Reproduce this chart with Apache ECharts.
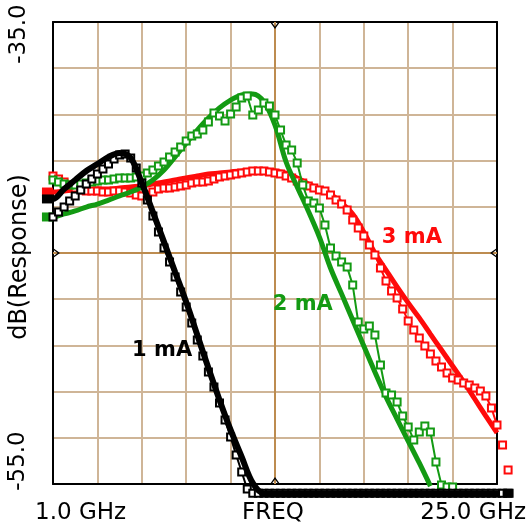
<!DOCTYPE html>
<html><head><meta charset="utf-8">
<script src="https://cdn.jsdelivr.net/npm/echarts@6/dist/echarts.min.js"></script>
<style>html,body{margin:0;padding:0;background:#fff}#c{width:529px;height:527px}</style>
</head><body><div id="c"></div>
<script>
// ---- axis definitions ----
const FREQ_MIN = 1.0, FREQ_MAX = 25.0, FREQ_STEP = 2.4;   // GHz
const DB_MIN = -55, DB_MAX = -35, DB_STEP = 2;
const xTickLabels = ['1.0 GHz', 'FREQ', '25.0 GHz'];
const yTickLabels = ['-35.0', '-55.0'];
const yAxisTitle = 'dB(Response)';
const seriesNames = ['1 mA', '2 mA', '3 mA'];

// ---- measured sweeps (GHz / dB) ----
const measFreq = [1.0,1.3,1.6,1.9,2.2,2.5,2.8,3.1,3.4,3.7,4.0,4.3,4.6,4.9,5.2,5.5,5.8,6.1,6.4,6.7,7.0,7.3,7.6,7.9,8.2,8.5,8.8,9.1,9.4,9.7,10.0,10.3,10.6,10.9,11.2,11.5,11.8,12.1,12.4,12.7,13.0,13.3,13.6,13.9,14.2,14.5,14.8,15.1,15.4,15.7,16.0,16.3,16.6,16.9,17.2,17.5,17.8,18.1,18.4,18.7,19.0,19.3,19.6,19.9,20.2,20.5,20.8,21.1,21.4,21.7,22.0,22.3,22.6,22.9,23.2,23.5,23.8,24.1,24.4,24.7,25.0,25.3,25.6];
const meas1mA = [-43.44,-43.23,-43.01,-42.75,-42.53,-42.27,-42.01,-41.80,-41.58,-41.36,-41.15,-40.93,-40.76,-40.71,-40.89,-41.32,-41.97,-42.71,-43.40,-44.09,-44.78,-45.39,-46.04,-46.69,-47.34,-48.03,-48.77,-49.46,-50.15,-50.80,-51.49,-52.23,-52.97,-53.74,-54.48,-55.22,
 -55.4,-55.4,-55.4,-55.4,-55.4,-55.4,-55.4,-55.4,-55.4,-55.4,-55.4,-55.4,-55.4,-55.4,-55.4,-55.4,-55.4,-55.4,-55.4,-55.4,-55.4,-55.4,-55.4,-55.4,-55.4,-55.4,-55.4,-55.4,-55.4,-55.4,-55.4,-55.4,-55.4,-55.4,-55.4,-55.4,-55.4,-55.4,-55.4,-55.4,-55.4,-55.4,-55.4,-55.4,-55.4,-55.4,-55.4];
const meas2mA = [-41.84,-41.93,-42.01,-42.06,-42.06,-42.01,-41.97,-41.93,-41.88,-41.84,-41.84,-41.80,-41.75,-41.75,-41.75,-41.71,-41.67,-41.54,-41.41,-41.23,-41.06,-40.84,-40.63,-40.41,-40.15,-39.94,-39.85,-39.68,-39.33,-38.94,-39.07,-39.29,-38.98,-38.68,-38.29,-38.20,-39.03,-38.81,-38.51,-38.64,-39.03,-39.68,-40.32,-40.54,-41.10,-42.06,-42.75,-42.84,-43.05,-43.79,-44.78,-45.13,-45.39,-45.61,-46.39,-47.99,-48.29,-48.16,-48.55,-49.85,-51.06,-51.15,-51.45,-52.06,-52.53,-53.10,-52.75,-52.49,-52.75,-54.05,-55.04,-55.13,-55.13,
 null,null,null,null,null,null,null,null,null,null];
const meas3mA = [-41.67,-41.80,-41.93,-42.06,-42.19,-42.27,-42.32,-42.32,-42.32,-42.36,-42.36,-42.32,-42.32,-42.36,-42.40,-42.49,-42.53,-42.49,-42.36,-42.23,-42.19,-42.19,-42.14,-42.10,-42.06,-41.97,-41.93,-41.93,-41.88,-41.80,-41.71,-41.67,-41.62,-41.58,-41.54,-41.49,-41.45,-41.45,-41.45,-41.49,-41.54,-41.58,-41.67,-41.75,-41.88,-41.97,-42.10,-42.19,-42.27,-42.32,-42.49,-42.71,-42.88,-43.14,-43.57,-43.92,-44.26,-44.65,-45.09,-45.65,-46.21,-46.65,-46.95,-47.42,-47.94,-48.33,-48.68,-49.03,-49.37,-49.68,-49.94,-50.19,-50.41,-50.50,-50.63,-50.71,-50.84,-50.97,-51.19,-51.71,-52.45,-53.31,-54.39];

// ---- fitted (model) curves (GHz / dB) ----
const fitFreq = [0.7,1.0,1.6,2.2,2.8,3.4,4.0,4.6,5.2,5.8,6.4,7.0,7.6,8.2,8.8,9.4,10.0,10.6,11.2,11.8,12.4,13.0,13.6,14.2,14.8,15.4,16.0,16.6,17.2,17.8,18.4,19.0,19.6,20.2,20.8,21.4,22.0,22.6,23.2,23.8,24.4,25.0,25.6];
const fit1mA = [-42.66,-42.66,-42.23,-41.84,-41.45,-41.15,-40.84,-40.67,-40.89,-41.97,-43.23,-44.52,-45.82,-47.12,-48.55,-49.98,-51.36,-52.66,-53.83,-54.96,-55.4,-55.4,-55.4,-55.4,-55.4,-55.4,-55.4,-55.4,-55.4,-55.4,-55.4,-55.4,-55.4,-55.4,-55.4,-55.4,-55.4,-55.4,-55.4,-55.4,-55.4,-55.4,-55.4];
const fit2mA = [-43.44,-43.44,-43.31,-43.18,-43.01,-42.88,-42.71,-42.53,-42.36,-42.14,-41.84,-41.41,-40.84,-40.24,-39.68,-39.16,-38.72,-38.38,-38.16,-38.12,-38.46,-39.46,-41.06,-42.14,-43.18,-44.31,-45.65,-46.77,-47.90,-49.03,-50.15,-51.23,-52.19,-53.14,-54.09,-55.09,null,null,null,null,null,null,null];
const fit3mA = [-42.36,-42.36,-42.32,-42.27,-42.27,-42.23,-42.23,-42.19,-42.14,-42.10,-42.01,-41.93,-41.84,-41.75,-41.67,-41.58,-41.54,-41.49,-41.45,-41.41,-41.41,-41.45,-41.54,-41.75,-42.01,-42.23,-42.45,-42.84,-43.31,-44.09,-45.00,-45.74,-46.47,-47.16,-47.81,-48.51,-49.20,-49.89,-50.58,-51.32,-52.06,-52.79,null];

// ---- annotation anchors (GHz, dB) ----
const labelAnchors = { '1 mA': [6.9, -49.24], '2 mA': [14.5, -47.25], '3 mA': [20.4, -44.35] };

// ---- styling ----
const COLORS = { '1 mA': '#000000', '2 mA': '#139a13', '3 mA': '#ff0a0a' };
const GRID = { left: 53, top: 22, right: 32, bottom: 43 };
const FONT = '"DejaVu Sans", sans-serif';
const GRIDLINE = '#cfb597';
const CHEVRON = 'path://M0,7 L5,0 L10,7 L8.4,7 L5,2.3 L1.6,7 Z';

function pairs(freq, vals, endMarkIdx) {
  const out = [];
  freq.forEach((f, i) => {
    if (vals[i] == null) return;
    const item = { value: [f - FREQ_MIN, vals[i]] };
    if (endMarkIdx && endMarkIdx.includes(i)) { item.symbol = 'rect'; item.symbolSize = [11, 9]; }
    out.push(item);
  });
  return out;
}
function fitSeries(name, vals, marks, z, width) {
  return { name: name + ' fit', type: 'line', data: pairs(fitFreq, vals, marks), smooth: 0.35,
    symbol: 'none', showSymbol: true, clip: false, lineStyle: { color: COLORS[name], width: width || 5 },
    itemStyle: { color: COLORS[name] }, animation: false, z: z };
}
function measSeries(name, vals, z) {
  return { name: name, type: 'line', data: pairs(measFreq, vals), clip: false,
    symbol: 'emptyRect', symbolSize: 7, showSymbol: true, showAllSymbol: true,
    lineStyle: { color: COLORS[name], width: 2 },
    itemStyle: { color: COLORS[name], borderColor: COLORS[name], borderWidth: 2 }, animation: false, z: z };
}

const chart = echarts.init(document.getElementById('c'), null, { renderer: 'canvas' });
const xBase = { type: 'value', min: 0, max: FREQ_MAX - FREQ_MIN, interval: FREQ_STEP,
  axisLabel: { show: false }, axisTick: { show: false } };
const yBase = { type: 'value', min: DB_MIN, max: DB_MAX, interval: DB_STEP,
  axisLabel: { show: false }, axisTick: { show: false } };

const xMid = (FREQ_MAX - FREQ_MIN) / 2, yMid = (DB_MIN + DB_MAX) / 2;
const midLines = { symbol: 'none', silent: true, label: { show: false }, z: 1,
  lineStyle: { color: '#bd8c50', width: 2, type: 'solid' },
  data: [{ xAxis: xMid }, { yAxis: yMid }] };
const caret = (coord, rot, off) => ({ coord: coord, symbol: CHEVRON, symbolSize: [10, 7],
  symbolRotate: rot, symbolOffset: off, itemStyle: { color: '#000' }, label: { show: false } });
const midMarks = { silent: true, z: 6, animation: false, data: [
  caret([xMid, DB_MAX], 180, [0, 3.5]), caret([xMid, DB_MIN], 0, [0, -3.5]),
  caret([0, yMid], -90, [3.5, 0]), caret([FREQ_MAX - FREQ_MIN, yMid], 90, [-3.5, 0]) ] };

const series = [
  fitSeries('3 mA', fit3mA, [0], 3), measSeries('3 mA', meas3mA, 4),
  fitSeries('2 mA', fit2mA, [0], 5), measSeries('2 mA', meas2mA, 6),
  measSeries('1 mA', meas1mA, 7), fitSeries('1 mA', fit1mA, [0, fitFreq.length - 1], 8, 6)
];
series[0].markLine = midLines;
series[0].markPoint = midMarks;

chart.setOption({
  backgroundColor: '#fff',
  animation: false,
  grid: GRID,
  xAxis: [
    Object.assign({}, xBase, { position: 'bottom', axisLine: { show: true, onZero: false, lineStyle: { color: '#000', width: 2 } },
      splitLine: { show: true, lineStyle: { color: GRIDLINE, width: 2 } } }),
    Object.assign({}, xBase, { position: 'top', axisLine: { show: true, onZero: false, lineStyle: { color: '#000', width: 2 } },
      splitLine: { show: false } })
  ],
  yAxis: [
    Object.assign({}, yBase, { position: 'left', axisLine: { show: true, onZero: false, lineStyle: { color: '#000', width: 2 } },
      splitLine: { show: true, lineStyle: { color: GRIDLINE, width: 2 } } }),
    Object.assign({}, yBase, { position: 'right', axisLine: { show: true, onZero: false, lineStyle: { color: '#000', width: 2 } },
      splitLine: { show: false } })
  ],
  series: series
});

// text: axis tick labels and curve labels
const W = 529, H = 527;
const plotL = GRID.left, plotR = W - GRID.right, plotT = GRID.top, plotB = H - GRID.bottom;
const txt = (text, x, y, align, size, extra) => Object.assign({ type: 'text', x: x, y: y, z: 10,
  style: { text: text, font: size + 'px ' + FONT, fill: '#000', align: align, verticalAlign: 'middle' } }, extra || {});
const graphics = [
  txt(xTickLabels[0], plotL - 18, plotB + 29, 'left', 23),
  txt(xTickLabels[1], (plotL + plotR) / 2 - 2, plotB + 29, 'center', 23),
  txt(xTickLabels[2], W - 3, plotB + 29, 'right', 23),
  txt(yTickLabels[0], 19, plotT + 12, 'center', 23, { rotation: Math.PI / 2 }),
  txt(yTickLabels[1], 18, plotB - 23, 'center', 23, { rotation: Math.PI / 2 }),
  txt(yAxisTitle, 20, (plotT + plotB) / 2 + 4, 'center', 24, { rotation: Math.PI / 2 })
];
seriesNames.forEach(n => {
  const a = labelAnchors[n];
  const p = chart.convertToPixel({ xAxisIndex: 0, yAxisIndex: 0 }, [a[0] - FREQ_MIN, a[1]]);
  graphics.push({ type: 'text', x: p[0], y: p[1], z: 10,
    style: { text: n, font: 'bold 21px ' + FONT, fill: COLORS[n], align: 'center', verticalAlign: 'middle' } });
});
chart.setOption({ graphic: graphics });
</script></body></html>
